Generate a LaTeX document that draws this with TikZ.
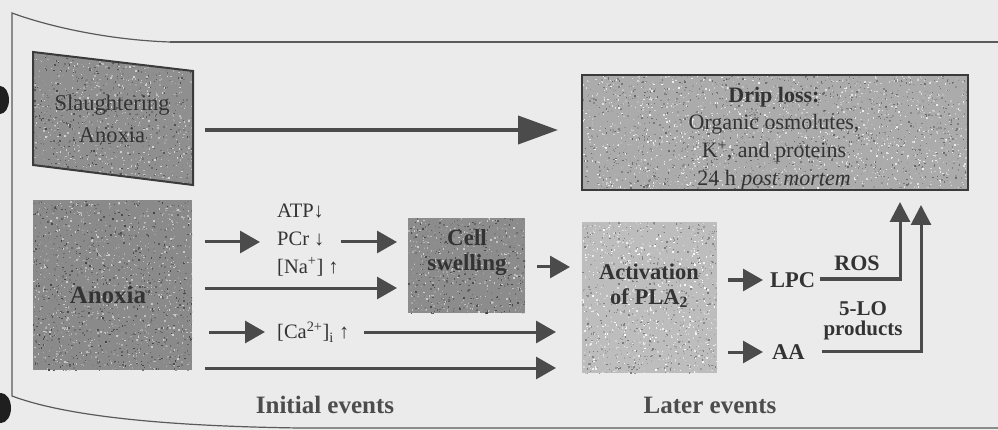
\documentclass[tikz,border=0pt]{standalone}
\usepackage{fontspec}
\setmainfont{Liberation Serif}
\usetikzlibrary{arrows.meta,calc}
\definecolor{bg}{HTML}{EBEBEB}
\definecolor{ink}{HTML}{333333}
\definecolor{arr}{HTML}{4B4B4B}
\definecolor{framec}{HTML}{5A5A5A}
\definecolor{boxline}{HTML}{3A3A3A}

\tikzset{
  lbl/.style={text=ink, inner sep=0pt, align=center},
  arrowline/.style={draw=arr, line width=3pt, -{Triangle[length=20pt,width=22pt]}},
  bigarrow/.style={draw=arr, line width=4pt, -{Triangle[length=40pt,width=28pt]}},
  uparrow/.style={draw=arr, line width=3pt, -{Triangle[length=20pt,width=20pt]}},
  boxarea/.style={inner sep=0pt, outer sep=0pt},
  boxborder/.style={draw=boxline, line width=2pt},
  framepath/.style={draw=framec, line width=1.2pt},
}

\newcommand\speckle[5]{%
  \pgfmathtruncatemacro\spn{(abs(#3-#1)/4)*(abs(#4-#2)/3.5)}%
  \foreach \k in {1,...,\spn}{%
    \pgfmathsetmacro\spx{#1+rnd*(#3-#1)}%
    \pgfmathsetmacro\spy{#2+rnd*(#4-#2)}%
    \pgfmathtruncatemacro\spc{max(2,min(95,#5-28+rnd*56))}%
    \fill[black!\spc] (\spx,\spy) rectangle ++(1.4,1.4);
  }}

\begin{document}
\begin{tikzpicture}[x=1pt,y=-1pt]
\pgfmathsetseed{7}
\useasboundingbox (0,0) rectangle (998,430);
\fill[bg] (0,0) rectangle (998,430);

% outer frame
\draw[framepath] (170,42) .. controls (110,40) and (50,27) .. (12,13) -- (12,396)
  .. controls (60,414) and (150,426) .. (300,428) -- (998,428);
\draw[framepath] (170,42) -- (998,42);
\fill[black!88] (0,100) ellipse [x radius=9, y radius=14];
\fill[black!88] (1,408) ellipse [x radius=10, y radius=15];

% ---- Slaughtering / Anoxia box (skewed)
\node[boxarea, minimum width=160pt, minimum height=120pt] (sl) at (113,118) {};
\begin{scope}
  \clip (33,52) -- (193,71) -- (193,185) -- (33,165) -- cycle;
  \fill[black!44] (33,52) rectangle (193,185);
  \speckle{33}{52}{193}{185}{44}
\end{scope}
\draw[boxborder] (33,52) -- (193,71) -- (193,185) -- (33,165) -- cycle;
\node[lbl, font=\fontsize{22.5}{32}\selectfont] (sltext) at (112,119) {Slaughtering\\Anoxia};

% ---- Drip loss box
\node[boxarea, minimum width=386pt, minimum height=115pt] (drip) at (775,132.5) {};
\begin{scope}
  \clip (drip.north west) rectangle (drip.south east);
  \fill[black!33] (drip.north west) rectangle (drip.south east);
  \speckle{582}{75}{968}{190}{33}
\end{scope}
\draw[boxborder] (drip.north west) rectangle (drip.south east);
\node[lbl, font=\fontsize{22}{27.7}\selectfont] (driptext) at (774,138.5)
  {\textbf{Drip loss:}\\Organic osmolutes,\\K\textsuperscript{+}, and proteins\\24 h \textit{post mortem}};

% ---- Anoxia box
\node[boxarea, minimum width=159pt, minimum height=170pt] (anox) at (112.5,285) {};
\begin{scope}
  \clip (anox.north west) rectangle (anox.south east);
  \fill[black!46] (anox.north west) rectangle (anox.south east);
  \speckle{33}{200}{192}{370}{46}
\end{scope}
\node[lbl, font=\fontsize{25}{28}\selectfont\bfseries] (anoxtext) at (108,295) {Anoxia};

% ---- Cell swelling box
\node[boxarea, minimum width=117pt, minimum height=95pt] (cell) at (466.5,265.5) {};
\begin{scope}
  \clip (cell.north west) rectangle (cell.south east);
  \fill[black!45] (cell.north west) rectangle (cell.south east);
  \speckle{408}{218}{525}{313}{45}
\end{scope}
\node[lbl, font=\fontsize{23}{25}\selectfont\bfseries] (celltext) at (467,253) {Cell\\swelling};

% ---- Activation of PLA2 box
\node[boxarea, minimum width=135pt, minimum height=151pt] (act) at (649.5,297.5) {};
\begin{scope}
  \clip (act.north west) rectangle (act.south east);
  \fill[black!26] (act.north west) rectangle (act.south east);
  \speckle{582}{222}{717}{373}{26}
\end{scope}
\node[lbl, font=\fontsize{22.5}{25}\selectfont\bfseries] (acttext) at (649,286) {Activation\\of PLA\textsubscript{2}};

% ---- plain labels
\node[lbl, align=left, anchor=west, font=\fontsize{20.5}{28}\selectfont] (ions) at (277,240)
  {ATP↓\\PCr ↓\\{}[Na\textsuperscript{+}] ↑};
\node[lbl, anchor=west, font=\fontsize{20.5}{24}\selectfont] (ca) at (277,332)
  {[Ca\textsuperscript{2+}]\textsubscript{i} ↑};
\node[lbl, anchor=west, font=\fontsize{22.5}{24}\selectfont\bfseries] (lpc) at (770,280) {LPC};
\node[lbl, anchor=west, font=\fontsize{22.5}{24}\selectfont\bfseries] (aa) at (772,352) {AA};
\node[lbl, font=\fontsize{22}{24}\selectfont\bfseries] (ros) at (857,263) {ROS};
\node[lbl, font=\fontsize{21}{20}\selectfont\bfseries] (lo) at (863,321) {5-LO\\products};
\node[lbl, text=black!70, font=\fontsize{25}{28}\selectfont\bfseries] (initial) at (325,405) {Initial events};
\node[lbl, text=black!70, font=\fontsize{25}{28}\selectfont\bfseries] (later) at (710,405) {Later events};

% ---- connectors
\draw[bigarrow] ([xshift=12pt]sl.east |- 0,130) -- ([xshift=-24pt]drip.west |- 0,130);

\coordinate (a1) at ($(anox.east |- ions.west)+(13,2)$);
\draw[arrowline] (a1) -- ([xshift=-17pt]a1 -| ions.west);
\coordinate (a2) at ($(ions.east)+(2,2)$);
\draw[arrowline] (a2) -- ([xshift=-11pt]a2 -| cell.west);
\coordinate (a3) at ($(anox.east)+(13,3)$);
\draw[arrowline] (a3) -- ([xshift=-11pt]a3 -| cell.west);
\coordinate (a4) at ($(anox.east |- ca.west)+(17,0)$);
\draw[arrowline] (a4) -- ([xshift=-12pt]a4 -| ca.west);
\coordinate (a5) at ($(ca.east)+(15,0)$);
\draw[arrowline] (a5) -- ([xshift=-26pt]a5 -| act.west);
\coordinate (a6) at ($(anox.east)+(13,83)$);
\draw[arrowline] (a6) -- ([xshift=-26pt]a6 -| act.west);
\coordinate (a7) at ($(cell.east)+(12,1.5)$);
\draw[arrowline] (a7) -- ([xshift=-12pt]a7 -| act.west);
\coordinate (a8) at ($(act.east |- lpc.west)+(11,0)$);
\draw[arrowline] (a8) -- ([xshift=-7pt]a8 -| lpc.west);
\coordinate (a9) at ($(act.east |- aa.west)+(11,0)$);
\draw[arrowline] (a9) -- ([xshift=-9pt]a9 -| aa.west);

\coordinate (lpcout) at ($(lpc.east)+(5,-1)$);
\draw[uparrow] (lpcout) -| ($(drip.south)+(125,12)$);
\coordinate (aaout) at ($(aa.east)+(17,-1)$);
\draw[uparrow] (aaout) -| ($(drip.south)+(146,15)$);
\end{tikzpicture}
\end{document}
